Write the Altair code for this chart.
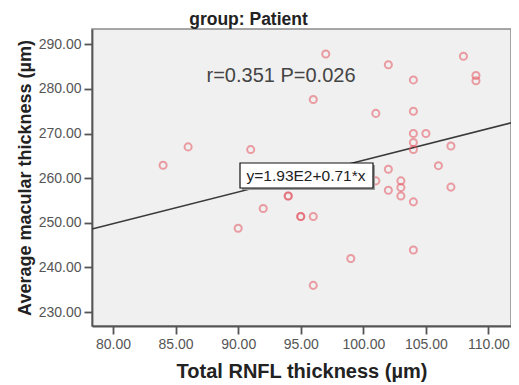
import altair as alt
import pandas as pd

# Data
rnfl = [84, 86, 91, 96, 97, 102, 108, 109, 109, 104, 101, 104, 104, 105, 104, 104,
        107, 106, 102, 101, 103, 103, 103, 102, 107, 104, 104, 99, 94, 94, 92, 90,
        95, 95, 96, 96]
macular = [262.9, 267.0, 266.4, 277.6, 287.8, 285.4, 287.3, 283.0, 281.8, 282.0,
           274.5, 275.0, 270.0, 270.0, 268.0, 266.4, 267.2, 262.8, 262.0, 259.4,
           259.4, 257.9, 256.0, 257.3, 258.0, 254.7, 243.9, 242.0, 256.0, 256.0,
           253.2, 248.8, 251.4, 251.4, 251.4, 236.0]

x_ticks = [80, 85, 90, 95, 100, 105, 110]
y_ticks = [230, 240, 250, 260, 270, 280, 290]
x_domain = [78.32, 111.8]
y_domain = [226.9, 293.4]

intercept = 193.0
slope = 0.71
fit_label = "y=1.93E2+0.71*x"
stat_label = "r=0.351 P=0.026"
title_text = "group: Patient"
x_title = "Total RNFL thickness (µm)"
y_title = "Average macular thickness (µm)"

FONT = "Liberation Sans"

pts = pd.DataFrame({"x": rnfl, "y": macular})
line_df = pd.DataFrame({"x": x_domain, "y": [intercept + slope * v for v in x_domain]})

xs = alt.Scale(domain=x_domain, nice=False, zero=False)
ys = alt.Scale(domain=y_domain, nice=False, zero=False)

xenc = alt.X("x:Q", scale=xs, title=x_title,
             axis=alt.Axis(values=x_ticks, format=".2f", grid=False,
                           titleFontSize=20, titlePadding=10, labelPadding=3))
yenc = alt.Y("y:Q", scale=ys, title=y_title,
             axis=alt.Axis(values=y_ticks, format=".2f", grid=False,
                           titleFontSize=18, titlePadding=4, labelPadding=3))

line = alt.Chart(line_df).mark_line(color="#3a3a3a", strokeWidth=1.6).encode(x=xenc, y=yenc)

points = alt.Chart(pts).mark_point(shape="circle", filled=False, size=50,
                                   color="#e4505c", strokeWidth=2,
                                   strokeOpacity=0.75).encode(x=xenc, y=yenc)

ann = pd.DataFrame({"t": [fit_label]})
shadow = alt.Chart(ann).mark_rect(fill="#9a9a9a").encode(
    x=alt.value(150), x2=alt.value(283), y=alt.value(136), y2=alt.value(161))
box = alt.Chart(ann).mark_rect(fill="white", stroke="#111", strokeWidth=1.2).encode(
    x=alt.value(148), x2=alt.value(281), y=alt.value(134), y2=alt.value(159))
box_text = alt.Chart(ann).mark_text(font=FONT, fontSize=15.5, color="#222",
                                    align="center", baseline="middle").encode(
    x=alt.value(214), y=alt.value(147), text="t:N")

stat = pd.DataFrame({"t": [stat_label]})
stat_text = alt.Chart(stat).mark_text(font=FONT, fontSize=20, color="#444",
                                      align="center", baseline="middle").encode(
    x=alt.value(189), y=alt.value(47), text="t:N")

chart = alt.layer(line, points, shadow, box, box_text, stat_text).properties(
    width=419, height=297,
    title=alt.TitleParams(title_text, font=FONT, fontSize=17.5, fontWeight="bold",
                          color="#222", anchor="middle", dx=-53, offset=1),
    autosize=alt.AutoSizeParams(type="none"),
    padding={"left": 84, "top": 21, "right": 0, "bottom": 58},
).configure_view(fill="#f0f0f0", stroke="#8a8a8a", strokeWidth=1.5
).configure_axis(
    domainColor="#555", domainWidth=1.8, tickColor="#555", tickWidth=1.8, tickSize=8,
    labelColor="#555", labelFont=FONT, labelFontSize=14,
    titleFont=FONT, titleFontWeight="bold", titleColor="#222"
)

chart.save("out.html", embed_options={"renderer": "svg", "actions": False})
